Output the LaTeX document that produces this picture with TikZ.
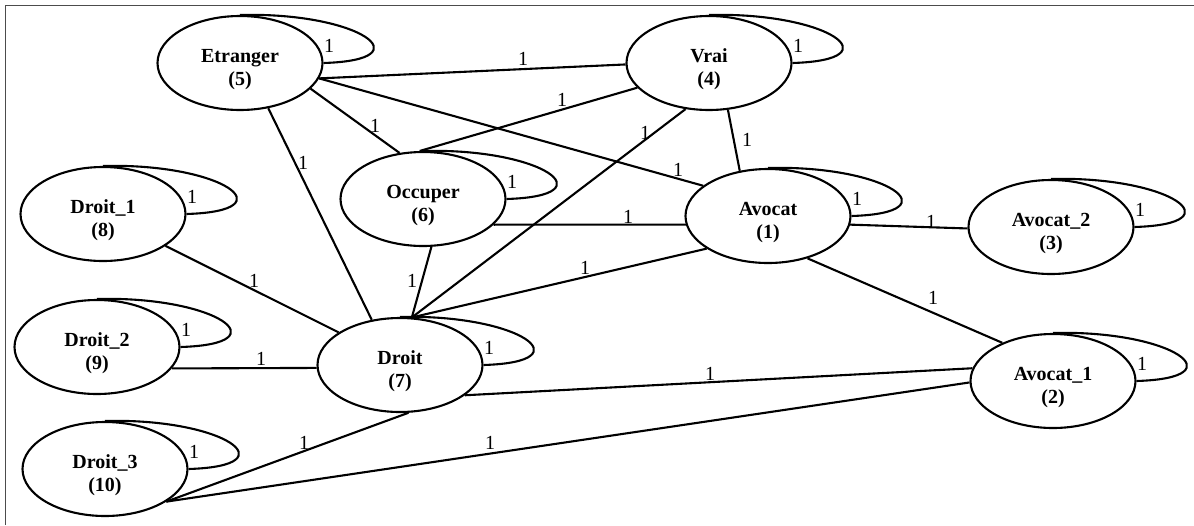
\documentclass[tikz,border=0pt]{standalone}
\usepackage{fontspec}
\setmainfont{Liberation Serif}
\usetikzlibrary{shapes.geometric}
\tikzset{
  ell/.style={draw, ellipse, line width=2.1pt, minimum width=165pt, minimum height=94pt, inner sep=0pt},
  ntext/.style={align=center, font=\fontsize{20}{23}\selectfont\bfseries, inner sep=0pt},
  lbl/.style={font=\fontsize{20}{23}\selectfont, inner sep=0pt},
  edge/.style={line width=2.1pt},
  frame/.style={draw=black!70, line width=1.2pt}
}
\newcommand\gnode[4]{\node[ell] (#1) at (#2,#3) {};\node[ntext] (#1t) at ([yshift=-6.5pt]#1.center) {#4};}
\newcommand\selfloop[1]{\draw[edge] (#1.north) .. controls ([shift={(120,-3)}]#1.north) and ([shift={(102,-3)}]#1.east) .. (#1.east);
  \node[lbl] (#1l) at ([shift={(89,-17)}]#1.center) {1};}
\begin{document}
\begin{tikzpicture}[x=1pt,y=-1pt]
\useasboundingbox (0,0) rectangle (1194,525);
\draw[frame] (5.5,525) -- (5.5,5.5) -- (1194,5.5);
\gnode{E}{240}{63}{Etranger\\(5)}
\gnode{V}{709}{63}{Vrai\\(4)}
\gnode{O}{423}{199}{Occuper\\(6)}
\gnode{A}{768}{216}{Avocat\\(1)}
\gnode{A2}{1051}{227}{Avocat\_2\\(3)}
\gnode{A1}{1053}{381}{Avocat\_1\\(2)}
\gnode{D1}{103}{214}{Droit\_1\\(8)}
\gnode{D2}{97}{347}{Droit\_2\\(9)}
\gnode{D}{400}{365}{Droit\\(7)}
\gnode{D3}{105}{469}{Droit\_3\\(10)}
\selfloop{E}
\selfloop{V}
\selfloop{O}
\selfloop{A}
\selfloop{A2}
\selfloop{A1}
\selfloop{D1}
\selfloop{D2}
\selfloop{D}
\selfloop{D3}
\draw[edge] (E.-11) -- (V.181);
\draw[edge] (E.-20) -- (O.117);
\draw[edge] (E.-11) -- (A.155);
\draw[edge] (E.-58) -- (D.122);
\draw[edge] (V.199) -- (O.94);
\draw[edge] (V.243) -- (D.76);
\draw[edge] (V.-68) -- (A.122);
\draw[edge] (O.-20) -- (A.186);
\draw[edge] (O.-80) -- (D.76);
\draw[edge] (A.208) -- (D.76);
\draw[edge] (A.-6) -- (A2.181);
\draw[edge] (A.-47) -- (A1.143);
\draw[edge] (D1.-27) -- (D.152);
\draw[edge] (D2.-16) -- (D.182);
\draw[edge] (D.-25) -- (A1.171);
\draw[edge] (D.-80) -- (D3.-28);
\draw[edge] (D3.-28) -- (A1.181);
\node[lbl] (l1) at (523,59) {1};
\node[lbl] (l2) at (375,126) {1};
\node[lbl] (l3) at (678,170) {1};
\node[lbl] (l4) at (303,163) {1};
\node[lbl] (l5) at (562,100) {1};
\node[lbl] (l6) at (645,133) {1};
\node[lbl] (l7) at (747,140) {1};
\node[lbl] (l8) at (628,217) {1};
\node[lbl] (l9) at (412,281) {1};
\node[lbl] (l10) at (585,268) {1};
\node[lbl] (l11) at (931,222) {1};
\node[lbl] (l12) at (933,298) {1};
\node[lbl] (l13) at (254,281) {1};
\node[lbl] (l14) at (261,359) {1};
\node[lbl] (l15) at (710,374) {1};
\node[lbl] (l16) at (304,443) {1};
\node[lbl] (l17) at (490,443) {1};
\end{tikzpicture}
\end{document}
